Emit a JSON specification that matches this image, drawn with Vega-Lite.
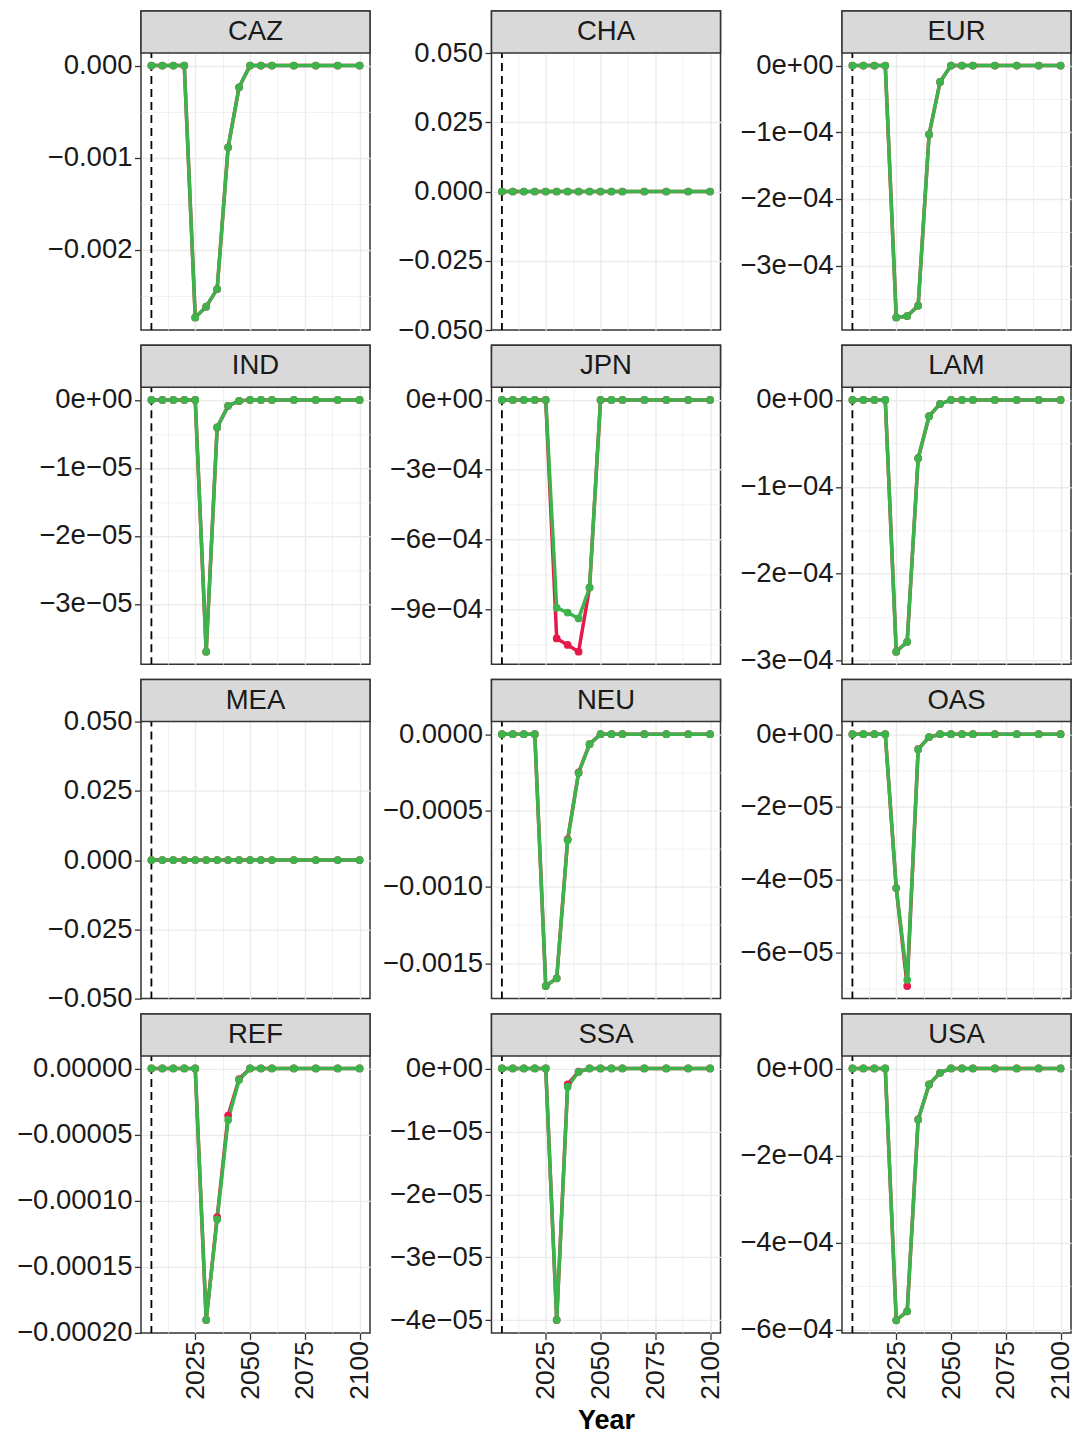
{
"$schema":"https://vega.github.io/schema/vega-lite/v6.json",
"padding":{"left":15,"top":9,"right":4,"bottom":0},
"background":"white",
"data":{"values":[
{"region":"CAZ","series":"A","year":2005,"value":0},{"region":"CAZ","series":"A","year":2010,"value":0},{"region":"CAZ","series":"A","year":2015,"value":0},{"region":"CAZ","series":"A","year":2020,"value":0},{"region":"CAZ","series":"A","year":2025,"value":-0.002736},{"region":"CAZ","series":"A","year":2030,"value":-0.00262},{"region":"CAZ","series":"A","year":2035,"value":-0.002428},{"region":"CAZ","series":"A","year":2040,"value":-0.000888},{"region":"CAZ","series":"A","year":2045,"value":-0.000236},{"region":"CAZ","series":"A","year":2050,"value":0},{"region":"CAZ","series":"A","year":2055,"value":0},{"region":"CAZ","series":"A","year":2060,"value":0},{"region":"CAZ","series":"A","year":2070,"value":0},{"region":"CAZ","series":"A","year":2080,"value":0},{"region":"CAZ","series":"A","year":2090,"value":0},{"region":"CAZ","series":"A","year":2100,"value":0},
{"region":"CAZ","series":"B","year":2005,"value":0},{"region":"CAZ","series":"B","year":2010,"value":0},{"region":"CAZ","series":"B","year":2015,"value":0},{"region":"CAZ","series":"B","year":2020,"value":0},{"region":"CAZ","series":"B","year":2025,"value":-0.002736},{"region":"CAZ","series":"B","year":2030,"value":-0.00262},{"region":"CAZ","series":"B","year":2035,"value":-0.002428},{"region":"CAZ","series":"B","year":2040,"value":-0.000888},{"region":"CAZ","series":"B","year":2045,"value":-0.000236},{"region":"CAZ","series":"B","year":2050,"value":0},{"region":"CAZ","series":"B","year":2055,"value":0},{"region":"CAZ","series":"B","year":2060,"value":0},{"region":"CAZ","series":"B","year":2070,"value":0},{"region":"CAZ","series":"B","year":2080,"value":0},{"region":"CAZ","series":"B","year":2090,"value":0},{"region":"CAZ","series":"B","year":2100,"value":0},
{"region":"CHA","series":"A","year":2005,"value":0},{"region":"CHA","series":"A","year":2010,"value":0},{"region":"CHA","series":"A","year":2015,"value":0},{"region":"CHA","series":"A","year":2020,"value":0},{"region":"CHA","series":"A","year":2025,"value":0},{"region":"CHA","series":"A","year":2030,"value":0},{"region":"CHA","series":"A","year":2035,"value":0},{"region":"CHA","series":"A","year":2040,"value":0},{"region":"CHA","series":"A","year":2045,"value":0},{"region":"CHA","series":"A","year":2050,"value":0},{"region":"CHA","series":"A","year":2055,"value":0},{"region":"CHA","series":"A","year":2060,"value":0},{"region":"CHA","series":"A","year":2070,"value":0},{"region":"CHA","series":"A","year":2080,"value":0},{"region":"CHA","series":"A","year":2090,"value":0},{"region":"CHA","series":"A","year":2100,"value":0},
{"region":"CHA","series":"B","year":2005,"value":0},{"region":"CHA","series":"B","year":2010,"value":0},{"region":"CHA","series":"B","year":2015,"value":0},{"region":"CHA","series":"B","year":2020,"value":0},{"region":"CHA","series":"B","year":2025,"value":0},{"region":"CHA","series":"B","year":2030,"value":0},{"region":"CHA","series":"B","year":2035,"value":0},{"region":"CHA","series":"B","year":2040,"value":0},{"region":"CHA","series":"B","year":2045,"value":0},{"region":"CHA","series":"B","year":2050,"value":0},{"region":"CHA","series":"B","year":2055,"value":0},{"region":"CHA","series":"B","year":2060,"value":0},{"region":"CHA","series":"B","year":2070,"value":0},{"region":"CHA","series":"B","year":2080,"value":0},{"region":"CHA","series":"B","year":2090,"value":0},{"region":"CHA","series":"B","year":2100,"value":0},
{"region":"EUR","series":"A","year":2005,"value":0},{"region":"EUR","series":"A","year":2010,"value":0},{"region":"EUR","series":"A","year":2015,"value":0},{"region":"EUR","series":"A","year":2020,"value":0},{"region":"EUR","series":"A","year":2025,"value":-0.0003778},{"region":"EUR","series":"A","year":2030,"value":-0.0003757},{"region":"EUR","series":"A","year":2035,"value":-0.0003603},{"region":"EUR","series":"A","year":2040,"value":-0.0001033},{"region":"EUR","series":"A","year":2045,"value":-0.0000245},{"region":"EUR","series":"A","year":2050,"value":0},{"region":"EUR","series":"A","year":2055,"value":0},{"region":"EUR","series":"A","year":2060,"value":0},{"region":"EUR","series":"A","year":2070,"value":0},{"region":"EUR","series":"A","year":2080,"value":0},{"region":"EUR","series":"A","year":2090,"value":0},{"region":"EUR","series":"A","year":2100,"value":0},
{"region":"EUR","series":"B","year":2005,"value":0},{"region":"EUR","series":"B","year":2010,"value":0},{"region":"EUR","series":"B","year":2015,"value":0},{"region":"EUR","series":"B","year":2020,"value":0},{"region":"EUR","series":"B","year":2025,"value":-0.0003778},{"region":"EUR","series":"B","year":2030,"value":-0.0003757},{"region":"EUR","series":"B","year":2035,"value":-0.0003603},{"region":"EUR","series":"B","year":2040,"value":-0.0001033},{"region":"EUR","series":"B","year":2045,"value":-0.0000245},{"region":"EUR","series":"B","year":2050,"value":0},{"region":"EUR","series":"B","year":2055,"value":0},{"region":"EUR","series":"B","year":2060,"value":0},{"region":"EUR","series":"B","year":2070,"value":0},{"region":"EUR","series":"B","year":2080,"value":0},{"region":"EUR","series":"B","year":2090,"value":0},{"region":"EUR","series":"B","year":2100,"value":0},
{"region":"IND","series":"A","year":2005,"value":0},{"region":"IND","series":"A","year":2010,"value":0},{"region":"IND","series":"A","year":2015,"value":0},{"region":"IND","series":"A","year":2020,"value":0},{"region":"IND","series":"A","year":2025,"value":0},{"region":"IND","series":"A","year":2030,"value":-0.00003705},{"region":"IND","series":"A","year":2035,"value":-0.00000406},{"region":"IND","series":"A","year":2040,"value":-0.00000088},{"region":"IND","series":"A","year":2045,"value":-0.00000015},{"region":"IND","series":"A","year":2050,"value":0},{"region":"IND","series":"A","year":2055,"value":0},{"region":"IND","series":"A","year":2060,"value":0},{"region":"IND","series":"A","year":2070,"value":0},{"region":"IND","series":"A","year":2080,"value":0},{"region":"IND","series":"A","year":2090,"value":0},{"region":"IND","series":"A","year":2100,"value":0},
{"region":"IND","series":"B","year":2005,"value":0},{"region":"IND","series":"B","year":2010,"value":0},{"region":"IND","series":"B","year":2015,"value":0},{"region":"IND","series":"B","year":2020,"value":0},{"region":"IND","series":"B","year":2025,"value":0},{"region":"IND","series":"B","year":2030,"value":-0.00003705},{"region":"IND","series":"B","year":2035,"value":-0.00000406},{"region":"IND","series":"B","year":2040,"value":-0.00000088},{"region":"IND","series":"B","year":2045,"value":-0.00000015},{"region":"IND","series":"B","year":2050,"value":0},{"region":"IND","series":"B","year":2055,"value":0},{"region":"IND","series":"B","year":2060,"value":0},{"region":"IND","series":"B","year":2070,"value":0},{"region":"IND","series":"B","year":2080,"value":0},{"region":"IND","series":"B","year":2090,"value":0},{"region":"IND","series":"B","year":2100,"value":0},
{"region":"JPN","series":"A","year":2005,"value":0},{"region":"JPN","series":"A","year":2010,"value":0},{"region":"JPN","series":"A","year":2015,"value":0},{"region":"JPN","series":"A","year":2020,"value":0},{"region":"JPN","series":"A","year":2025,"value":0},{"region":"JPN","series":"A","year":2030,"value":-0.001026},{"region":"JPN","series":"A","year":2035,"value":-0.001054},{"region":"JPN","series":"A","year":2040,"value":-0.001083},{"region":"JPN","series":"A","year":2045,"value":-0.000807},{"region":"JPN","series":"A","year":2050,"value":0},{"region":"JPN","series":"A","year":2055,"value":0},{"region":"JPN","series":"A","year":2060,"value":0},{"region":"JPN","series":"A","year":2070,"value":0},{"region":"JPN","series":"A","year":2080,"value":0},{"region":"JPN","series":"A","year":2090,"value":0},{"region":"JPN","series":"A","year":2100,"value":0},
{"region":"JPN","series":"B","year":2005,"value":0},{"region":"JPN","series":"B","year":2010,"value":0},{"region":"JPN","series":"B","year":2015,"value":0},{"region":"JPN","series":"B","year":2020,"value":0},{"region":"JPN","series":"B","year":2025,"value":0},{"region":"JPN","series":"B","year":2030,"value":-0.0008945},{"region":"JPN","series":"B","year":2035,"value":-0.0009145},{"region":"JPN","series":"B","year":2040,"value":-0.00094},{"region":"JPN","series":"B","year":2045,"value":-0.000807},{"region":"JPN","series":"B","year":2050,"value":0},{"region":"JPN","series":"B","year":2055,"value":0},{"region":"JPN","series":"B","year":2060,"value":0},{"region":"JPN","series":"B","year":2070,"value":0},{"region":"JPN","series":"B","year":2080,"value":0},{"region":"JPN","series":"B","year":2090,"value":0},{"region":"JPN","series":"B","year":2100,"value":0},
{"region":"LAM","series":"A","year":2005,"value":0},{"region":"LAM","series":"A","year":2010,"value":0},{"region":"LAM","series":"A","year":2015,"value":0},{"region":"LAM","series":"A","year":2020,"value":0},{"region":"LAM","series":"A","year":2025,"value":-0.0002897},{"region":"LAM","series":"A","year":2030,"value":-0.0002783},{"region":"LAM","series":"A","year":2035,"value":-0.0000671},{"region":"LAM","series":"A","year":2040,"value":-0.0000187},{"region":"LAM","series":"A","year":2045,"value":-0.0000046},{"region":"LAM","series":"A","year":2050,"value":0},{"region":"LAM","series":"A","year":2055,"value":0},{"region":"LAM","series":"A","year":2060,"value":0},{"region":"LAM","series":"A","year":2070,"value":0},{"region":"LAM","series":"A","year":2080,"value":0},{"region":"LAM","series":"A","year":2090,"value":0},{"region":"LAM","series":"A","year":2100,"value":0},
{"region":"LAM","series":"B","year":2005,"value":0},{"region":"LAM","series":"B","year":2010,"value":0},{"region":"LAM","series":"B","year":2015,"value":0},{"region":"LAM","series":"B","year":2020,"value":0},{"region":"LAM","series":"B","year":2025,"value":-0.0002897},{"region":"LAM","series":"B","year":2030,"value":-0.0002783},{"region":"LAM","series":"B","year":2035,"value":-0.0000671},{"region":"LAM","series":"B","year":2040,"value":-0.0000187},{"region":"LAM","series":"B","year":2045,"value":-0.0000046},{"region":"LAM","series":"B","year":2050,"value":0},{"region":"LAM","series":"B","year":2055,"value":0},{"region":"LAM","series":"B","year":2060,"value":0},{"region":"LAM","series":"B","year":2070,"value":0},{"region":"LAM","series":"B","year":2080,"value":0},{"region":"LAM","series":"B","year":2090,"value":0},{"region":"LAM","series":"B","year":2100,"value":0},
{"region":"MEA","series":"A","year":2005,"value":0},{"region":"MEA","series":"A","year":2010,"value":0},{"region":"MEA","series":"A","year":2015,"value":0},{"region":"MEA","series":"A","year":2020,"value":0},{"region":"MEA","series":"A","year":2025,"value":0},{"region":"MEA","series":"A","year":2030,"value":0},{"region":"MEA","series":"A","year":2035,"value":0},{"region":"MEA","series":"A","year":2040,"value":0},{"region":"MEA","series":"A","year":2045,"value":0},{"region":"MEA","series":"A","year":2050,"value":0},{"region":"MEA","series":"A","year":2055,"value":0},{"region":"MEA","series":"A","year":2060,"value":0},{"region":"MEA","series":"A","year":2070,"value":0},{"region":"MEA","series":"A","year":2080,"value":0},{"region":"MEA","series":"A","year":2090,"value":0},{"region":"MEA","series":"A","year":2100,"value":0},
{"region":"MEA","series":"B","year":2005,"value":0},{"region":"MEA","series":"B","year":2010,"value":0},{"region":"MEA","series":"B","year":2015,"value":0},{"region":"MEA","series":"B","year":2020,"value":0},{"region":"MEA","series":"B","year":2025,"value":0},{"region":"MEA","series":"B","year":2030,"value":0},{"region":"MEA","series":"B","year":2035,"value":0},{"region":"MEA","series":"B","year":2040,"value":0},{"region":"MEA","series":"B","year":2045,"value":0},{"region":"MEA","series":"B","year":2050,"value":0},{"region":"MEA","series":"B","year":2055,"value":0},{"region":"MEA","series":"B","year":2060,"value":0},{"region":"MEA","series":"B","year":2070,"value":0},{"region":"MEA","series":"B","year":2080,"value":0},{"region":"MEA","series":"B","year":2090,"value":0},{"region":"MEA","series":"B","year":2100,"value":0},
{"region":"NEU","series":"A","year":2005,"value":0},{"region":"NEU","series":"A","year":2010,"value":0},{"region":"NEU","series":"A","year":2015,"value":0},{"region":"NEU","series":"A","year":2020,"value":0},{"region":"NEU","series":"A","year":2025,"value":-0.001649},{"region":"NEU","series":"A","year":2030,"value":-0.001599},{"region":"NEU","series":"A","year":2035,"value":-0.000688},{"region":"NEU","series":"A","year":2040,"value":-0.00025},{"region":"NEU","series":"A","year":2045,"value":-0.0000651},{"region":"NEU","series":"A","year":2050,"value":0},{"region":"NEU","series":"A","year":2055,"value":0},{"region":"NEU","series":"A","year":2060,"value":0},{"region":"NEU","series":"A","year":2070,"value":0},{"region":"NEU","series":"A","year":2080,"value":0},{"region":"NEU","series":"A","year":2090,"value":0},{"region":"NEU","series":"A","year":2100,"value":0},
{"region":"NEU","series":"B","year":2005,"value":0},{"region":"NEU","series":"B","year":2010,"value":0},{"region":"NEU","series":"B","year":2015,"value":0},{"region":"NEU","series":"B","year":2020,"value":0},{"region":"NEU","series":"B","year":2025,"value":-0.001649},{"region":"NEU","series":"B","year":2030,"value":-0.001599},{"region":"NEU","series":"B","year":2035,"value":-0.000694},{"region":"NEU","series":"B","year":2040,"value":-0.000254},{"region":"NEU","series":"B","year":2045,"value":-0.0000651},{"region":"NEU","series":"B","year":2050,"value":0},{"region":"NEU","series":"B","year":2055,"value":0},{"region":"NEU","series":"B","year":2060,"value":0},{"region":"NEU","series":"B","year":2070,"value":0},{"region":"NEU","series":"B","year":2080,"value":0},{"region":"NEU","series":"B","year":2090,"value":0},{"region":"NEU","series":"B","year":2100,"value":0},
{"region":"OAS","series":"A","year":2005,"value":0},{"region":"OAS","series":"A","year":2010,"value":0},{"region":"OAS","series":"A","year":2015,"value":0},{"region":"OAS","series":"A","year":2020,"value":0},{"region":"OAS","series":"A","year":2025,"value":-0.00004227},{"region":"OAS","series":"A","year":2030,"value":-0.0000692},{"region":"OAS","series":"A","year":2035,"value":-0.0000041},{"region":"OAS","series":"A","year":2040,"value":-0.0000008},{"region":"OAS","series":"A","year":2045,"value":0},{"region":"OAS","series":"A","year":2050,"value":0},{"region":"OAS","series":"A","year":2055,"value":0},{"region":"OAS","series":"A","year":2060,"value":0},{"region":"OAS","series":"A","year":2070,"value":0},{"region":"OAS","series":"A","year":2080,"value":0},{"region":"OAS","series":"A","year":2090,"value":0},{"region":"OAS","series":"A","year":2100,"value":0},
{"region":"OAS","series":"B","year":2005,"value":0},{"region":"OAS","series":"B","year":2010,"value":0},{"region":"OAS","series":"B","year":2015,"value":0},{"region":"OAS","series":"B","year":2020,"value":0},{"region":"OAS","series":"B","year":2025,"value":-0.00004227},{"region":"OAS","series":"B","year":2030,"value":-0.0000675},{"region":"OAS","series":"B","year":2035,"value":-0.0000042},{"region":"OAS","series":"B","year":2040,"value":-0.0000008},{"region":"OAS","series":"B","year":2045,"value":0},{"region":"OAS","series":"B","year":2050,"value":0},{"region":"OAS","series":"B","year":2055,"value":0},{"region":"OAS","series":"B","year":2060,"value":0},{"region":"OAS","series":"B","year":2070,"value":0},{"region":"OAS","series":"B","year":2080,"value":0},{"region":"OAS","series":"B","year":2090,"value":0},{"region":"OAS","series":"B","year":2100,"value":0},
{"region":"REF","series":"A","year":2005,"value":0},{"region":"REF","series":"A","year":2010,"value":0},{"region":"REF","series":"A","year":2015,"value":0},{"region":"REF","series":"A","year":2020,"value":0},{"region":"REF","series":"A","year":2025,"value":0},{"region":"REF","series":"A","year":2030,"value":-0.0001902},{"region":"REF","series":"A","year":2035,"value":-0.0001124},{"region":"REF","series":"A","year":2040,"value":-0.0000356},{"region":"REF","series":"A","year":2045,"value":-0.000008},{"region":"REF","series":"A","year":2050,"value":0},{"region":"REF","series":"A","year":2055,"value":0},{"region":"REF","series":"A","year":2060,"value":0},{"region":"REF","series":"A","year":2070,"value":0},{"region":"REF","series":"A","year":2080,"value":0},{"region":"REF","series":"A","year":2090,"value":0},{"region":"REF","series":"A","year":2100,"value":0},
{"region":"REF","series":"B","year":2005,"value":0},{"region":"REF","series":"B","year":2010,"value":0},{"region":"REF","series":"B","year":2015,"value":0},{"region":"REF","series":"B","year":2020,"value":0},{"region":"REF","series":"B","year":2025,"value":0},{"region":"REF","series":"B","year":2030,"value":-0.0001902},{"region":"REF","series":"B","year":2035,"value":-0.0001142},{"region":"REF","series":"B","year":2040,"value":-0.0000389},{"region":"REF","series":"B","year":2045,"value":-0.0000087},{"region":"REF","series":"B","year":2050,"value":0},{"region":"REF","series":"B","year":2055,"value":0},{"region":"REF","series":"B","year":2060,"value":0},{"region":"REF","series":"B","year":2070,"value":0},{"region":"REF","series":"B","year":2080,"value":0},{"region":"REF","series":"B","year":2090,"value":0},{"region":"REF","series":"B","year":2100,"value":0},
{"region":"SSA","series":"A","year":2005,"value":0},{"region":"SSA","series":"A","year":2010,"value":0},{"region":"SSA","series":"A","year":2015,"value":0},{"region":"SSA","series":"A","year":2020,"value":0},{"region":"SSA","series":"A","year":2025,"value":0},{"region":"SSA","series":"A","year":2030,"value":-0.00003995},{"region":"SSA","series":"A","year":2035,"value":-0.00000253},{"region":"SSA","series":"A","year":2040,"value":-0.0000005},{"region":"SSA","series":"A","year":2045,"value":0},{"region":"SSA","series":"A","year":2050,"value":0},{"region":"SSA","series":"A","year":2055,"value":0},{"region":"SSA","series":"A","year":2060,"value":0},{"region":"SSA","series":"A","year":2070,"value":0},{"region":"SSA","series":"A","year":2080,"value":0},{"region":"SSA","series":"A","year":2090,"value":0},{"region":"SSA","series":"A","year":2100,"value":0},
{"region":"SSA","series":"B","year":2005,"value":0},{"region":"SSA","series":"B","year":2010,"value":0},{"region":"SSA","series":"B","year":2015,"value":0},{"region":"SSA","series":"B","year":2020,"value":0},{"region":"SSA","series":"B","year":2025,"value":0},{"region":"SSA","series":"B","year":2030,"value":-0.00003995},{"region":"SSA","series":"B","year":2035,"value":-0.0000029},{"region":"SSA","series":"B","year":2040,"value":-0.00000053},{"region":"SSA","series":"B","year":2045,"value":0},{"region":"SSA","series":"B","year":2050,"value":0},{"region":"SSA","series":"B","year":2055,"value":0},{"region":"SSA","series":"B","year":2060,"value":0},{"region":"SSA","series":"B","year":2070,"value":0},{"region":"SSA","series":"B","year":2080,"value":0},{"region":"SSA","series":"B","year":2090,"value":0},{"region":"SSA","series":"B","year":2100,"value":0},
{"region":"USA","series":"A","year":2005,"value":0},{"region":"USA","series":"A","year":2010,"value":0},{"region":"USA","series":"A","year":2015,"value":0},{"region":"USA","series":"A","year":2020,"value":0},{"region":"USA","series":"A","year":2025,"value":-0.0005779},{"region":"USA","series":"A","year":2030,"value":-0.0005574},{"region":"USA","series":"A","year":2035,"value":-0.000117},{"region":"USA","series":"A","year":2040,"value":-0.0000365},{"region":"USA","series":"A","year":2045,"value":-0.0000099},{"region":"USA","series":"A","year":2050,"value":0},{"region":"USA","series":"A","year":2055,"value":0},{"region":"USA","series":"A","year":2060,"value":0},{"region":"USA","series":"A","year":2070,"value":0},{"region":"USA","series":"A","year":2080,"value":0},{"region":"USA","series":"A","year":2090,"value":0},{"region":"USA","series":"A","year":2100,"value":0},
{"region":"USA","series":"B","year":2005,"value":0},{"region":"USA","series":"B","year":2010,"value":0},{"region":"USA","series":"B","year":2015,"value":0},{"region":"USA","series":"B","year":2020,"value":0},{"region":"USA","series":"B","year":2025,"value":-0.0005779},{"region":"USA","series":"B","year":2030,"value":-0.0005574},{"region":"USA","series":"B","year":2035,"value":-0.0001178},{"region":"USA","series":"B","year":2040,"value":-0.0000365},{"region":"USA","series":"B","year":2045,"value":-0.0000099},{"region":"USA","series":"B","year":2050,"value":0},{"region":"USA","series":"B","year":2055,"value":0},{"region":"USA","series":"B","year":2060,"value":0},{"region":"USA","series":"B","year":2070,"value":0},{"region":"USA","series":"B","year":2080,"value":0},{"region":"USA","series":"B","year":2090,"value":0},{"region":"USA","series":"B","year":2100,"value":0}
]},
"columns":3,
"spacing":{"row":15.3,"column":121.5},
"bounds":"flush",
"concat":[
{"width":229,"height":319,"transform":[{"filter":"datum.region == 'CAZ'"}],"layer":[
 {"transform":[{"aggregate":[{"op":"min","field":"year","as":"year"}]}],"mark":{"type":"rule","color":"#000000","strokeWidth":1.8,"strokeDash":[8,5]},"encoding":{"x":{"field":"year","type":"quantitative","scale":{"domain":[2000.25,2104.75],"nice":false,"zero":false},"axis":{"values":[2012.5,2025,2037.5,2050,2062.5,2075,2087.5,2100],"labels":false,"ticks":false,"title":null,"gridWidth":{"condition":{"test":"datum.value % 25 != 0","value":0.7},"value":1.4}}}}},
 {"mark":{"type":"line","strokeWidth":3.5},"encoding":{"x":{"field":"year","type":"quantitative","scale":{"domain":[2000.25,2104.75],"nice":false,"zero":false},"axis":{"values":[2012.5,2025,2037.5,2050,2062.5,2075,2087.5,2100],"labels":false,"ticks":false,"title":null,"gridWidth":{"condition":{"test":"datum.value % 25 != 0","value":0.7},"value":1.4}}},"y":{"field":"value","type":"quantitative","scale":{"domain":[-0.002873,0.00059339],"nice":false,"zero":false},"axis":{"title":null,"values":[-0.0025,-0.002,-0.0015,-0.001,-0.0005,0],"labelExpr":"['0.000','−0.001','−0.002'][indexof([0,-0.001,-0.002], datum.value)] || ''","tickOpacity":{"condition":{"test":"indexof([0,-0.001,-0.002], datum.value) < 0","value":0},"value":1},"gridWidth":{"condition":{"test":"indexof([0,-0.001,-0.002], datum.value) < 0","value":0.7},"value":1.4}}},"color":{"field":"series","type":"nominal","scale":{"domain":["A","B"],"range":["#e6194B","#3cb44b"]},"legend":null}}},
 {"mark":{"type":"circle","size":60,"opacity":1},"encoding":{"x":{"field":"year","type":"quantitative","scale":{"domain":[2000.25,2104.75],"nice":false,"zero":false},"axis":{"values":[2012.5,2025,2037.5,2050,2062.5,2075,2087.5,2100],"labels":false,"ticks":false,"title":null,"gridWidth":{"condition":{"test":"datum.value % 25 != 0","value":0.7},"value":1.4}}},"y":{"field":"value","type":"quantitative","scale":{"domain":[-0.002873,0.00059339],"nice":false,"zero":false}},"color":{"field":"series","type":"nominal","scale":{"domain":["A","B"],"range":["#e6194B","#3cb44b"]},"legend":null}}},
 {"transform":[{"aggregate":[{"op":"count","as":"n"}],"groupby":["region"]}],"mark":{"type":"rect","fill":"#d9d9d9","stroke":"#333333","strokeWidth":1.5},"encoding":{"y":{"datum":0.000137,"type":"quantitative","scale":{"domain":[-0.002873,0.00059339],"nice":false,"zero":false}},"y2":{"datum":0.00059339}}},
 {"transform":[{"aggregate":[{"op":"count","as":"n"}],"groupby":["region"]}],"mark":{"type":"text","fontSize":27.5,"color":"#1a1a1a"},"encoding":{"y":{"datum":0.0003652,"type":"quantitative","scale":{"domain":[-0.002873,0.00059339],"nice":false,"zero":false}},"text":{"field":"region","type":"nominal"}}}
]},
{"width":229,"height":319,"transform":[{"filter":"datum.region == 'CHA'"}],"layer":[
 {"transform":[{"aggregate":[{"op":"min","field":"year","as":"year"}]}],"mark":{"type":"rule","color":"#000000","strokeWidth":1.8,"strokeDash":[8,5]},"encoding":{"x":{"field":"year","type":"quantitative","scale":{"domain":[2000.25,2104.75],"nice":false,"zero":false},"axis":{"values":[2012.5,2025,2037.5,2050,2062.5,2075,2087.5,2100],"labels":false,"ticks":false,"title":null,"gridWidth":{"condition":{"test":"datum.value % 25 != 0","value":0.7},"value":1.4}}}}},
 {"mark":{"type":"line","strokeWidth":3.5},"encoding":{"x":{"field":"year","type":"quantitative","scale":{"domain":[2000.25,2104.75],"nice":false,"zero":false},"axis":{"values":[2012.5,2025,2037.5,2050,2062.5,2075,2087.5,2100],"labels":false,"ticks":false,"title":null,"gridWidth":{"condition":{"test":"datum.value % 25 != 0","value":0.7},"value":1.4}}},"y":{"field":"value","type":"quantitative","scale":{"domain":[-0.05,0.0651625],"nice":false,"zero":false},"axis":{"title":null,"values":[-0.05,-0.0375,-0.025,-0.0125,0,0.0125,0.025,0.0375,0.05],"labelExpr":"['0.050','0.025','0.000','−0.025','−0.050'][indexof([0.05,0.025,0,-0.025,-0.05], datum.value)] || ''","tickOpacity":{"condition":{"test":"indexof([0.05,0.025,0,-0.025,-0.05], datum.value) < 0","value":0},"value":1},"gridWidth":{"condition":{"test":"indexof([0.05,0.025,0,-0.025,-0.05], datum.value) < 0","value":0.7},"value":1.4},"gridOpacity":{"condition":{"test":"abs(datum.value) >= 0.05","value":0},"value":1}}},"color":{"field":"series","type":"nominal","scale":{"domain":["A","B"],"range":["#e6194B","#3cb44b"]},"legend":null}}},
 {"mark":{"type":"circle","size":60,"opacity":1},"encoding":{"x":{"field":"year","type":"quantitative","scale":{"domain":[2000.25,2104.75],"nice":false,"zero":false},"axis":{"values":[2012.5,2025,2037.5,2050,2062.5,2075,2087.5,2100],"labels":false,"ticks":false,"title":null,"gridWidth":{"condition":{"test":"datum.value % 25 != 0","value":0.7},"value":1.4}}},"y":{"field":"value","type":"quantitative","scale":{"domain":[-0.05,0.0651625],"nice":false,"zero":false}},"color":{"field":"series","type":"nominal","scale":{"domain":["A","B"],"range":["#e6194B","#3cb44b"]},"legend":null}}},
 {"transform":[{"aggregate":[{"op":"count","as":"n"}],"groupby":["region"]}],"mark":{"type":"rect","fill":"#d9d9d9","stroke":"#333333","strokeWidth":1.5},"encoding":{"y":{"datum":0.05,"type":"quantitative","scale":{"domain":[-0.05,0.0651625],"nice":false,"zero":false}},"y2":{"datum":0.0651625}}},
 {"transform":[{"aggregate":[{"op":"count","as":"n"}],"groupby":["region"]}],"mark":{"type":"text","fontSize":27.5,"color":"#1a1a1a"},"encoding":{"y":{"datum":0.05758125,"type":"quantitative","scale":{"domain":[-0.05,0.0651625],"nice":false,"zero":false}},"text":{"field":"region","type":"nominal"}}}
]},
{"width":229,"height":319,"transform":[{"filter":"datum.region == 'EUR'"}],"layer":[
 {"transform":[{"aggregate":[{"op":"min","field":"year","as":"year"}]}],"mark":{"type":"rule","color":"#000000","strokeWidth":1.8,"strokeDash":[8,5]},"encoding":{"x":{"field":"year","type":"quantitative","scale":{"domain":[2000.25,2104.75],"nice":false,"zero":false},"axis":{"values":[2012.5,2025,2037.5,2050,2062.5,2075,2087.5,2100],"labels":false,"ticks":false,"title":null,"gridWidth":{"condition":{"test":"datum.value % 25 != 0","value":0.7},"value":1.4}}}}},
 {"mark":{"type":"line","strokeWidth":3.5},"encoding":{"x":{"field":"year","type":"quantitative","scale":{"domain":[2000.25,2104.75],"nice":false,"zero":false},"axis":{"values":[2012.5,2025,2037.5,2050,2062.5,2075,2087.5,2100],"labels":false,"ticks":false,"title":null,"gridWidth":{"condition":{"test":"datum.value % 25 != 0","value":0.7},"value":1.4}}},"y":{"field":"value","type":"quantitative","scale":{"domain":[-0.0003967,0.00008191],"nice":false,"zero":false},"axis":{"title":null,"values":[-0.00035,-0.0003,-0.00025,-0.0002,-0.00015,-0.0001,-0.00005,0],"labelExpr":"['0e+00','−1e−04','−2e−04','−3e−04'][indexof([0,-0.0001,-0.0002,-0.0003], datum.value)] || ''","tickOpacity":{"condition":{"test":"indexof([0,-0.0001,-0.0002,-0.0003], datum.value) < 0","value":0},"value":1},"gridWidth":{"condition":{"test":"indexof([0,-0.0001,-0.0002,-0.0003], datum.value) < 0","value":0.7},"value":1.4}}},"color":{"field":"series","type":"nominal","scale":{"domain":["A","B"],"range":["#e6194B","#3cb44b"]},"legend":null}}},
 {"mark":{"type":"circle","size":60,"opacity":1},"encoding":{"x":{"field":"year","type":"quantitative","scale":{"domain":[2000.25,2104.75],"nice":false,"zero":false},"axis":{"values":[2012.5,2025,2037.5,2050,2062.5,2075,2087.5,2100],"labels":false,"ticks":false,"title":null,"gridWidth":{"condition":{"test":"datum.value % 25 != 0","value":0.7},"value":1.4}}},"y":{"field":"value","type":"quantitative","scale":{"domain":[-0.0003967,0.00008191],"nice":false,"zero":false}},"color":{"field":"series","type":"nominal","scale":{"domain":["A","B"],"range":["#e6194B","#3cb44b"]},"legend":null}}},
 {"transform":[{"aggregate":[{"op":"count","as":"n"}],"groupby":["region"]}],"mark":{"type":"rect","fill":"#d9d9d9","stroke":"#333333","strokeWidth":1.5},"encoding":{"y":{"datum":0.0000189,"type":"quantitative","scale":{"domain":[-0.0003967,0.00008191],"nice":false,"zero":false}},"y2":{"datum":0.00008191}}},
 {"transform":[{"aggregate":[{"op":"count","as":"n"}],"groupby":["region"]}],"mark":{"type":"text","fontSize":27.5,"color":"#1a1a1a"},"encoding":{"y":{"datum":0.00005041,"type":"quantitative","scale":{"domain":[-0.0003967,0.00008191],"nice":false,"zero":false}},"text":{"field":"region","type":"nominal"}}}
]},
{"width":229,"height":319,"transform":[{"filter":"datum.region == 'IND'"}],"layer":[
 {"transform":[{"aggregate":[{"op":"min","field":"year","as":"year"}]}],"mark":{"type":"rule","color":"#000000","strokeWidth":1.8,"strokeDash":[8,5]},"encoding":{"x":{"field":"year","type":"quantitative","scale":{"domain":[2000.25,2104.75],"nice":false,"zero":false},"axis":{"values":[2012.5,2025,2037.5,2050,2062.5,2075,2087.5,2100],"labels":false,"ticks":false,"title":null,"gridWidth":{"condition":{"test":"datum.value % 25 != 0","value":0.7},"value":1.4}}}}},
 {"mark":{"type":"line","strokeWidth":3.5},"encoding":{"x":{"field":"year","type":"quantitative","scale":{"domain":[2000.25,2104.75],"nice":false,"zero":false},"axis":{"values":[2012.5,2025,2037.5,2050,2062.5,2075,2087.5,2100],"labels":false,"ticks":false,"title":null,"gridWidth":{"condition":{"test":"datum.value % 25 != 0","value":0.7},"value":1.4}}},"y":{"field":"value","type":"quantitative","scale":{"domain":[-0.0000389,0.000008029],"nice":false,"zero":false},"axis":{"title":null,"values":[-0.000035,-0.00003,-0.000025,-0.00002,-0.000015,-0.00001,-0.000005,0],"labelExpr":"['0e+00','−1e−05','−2e−05','−3e−05'][indexof([0,-0.00001,-0.00002,-0.00003], datum.value)] || ''","tickOpacity":{"condition":{"test":"indexof([0,-0.00001,-0.00002,-0.00003], datum.value) < 0","value":0},"value":1},"gridWidth":{"condition":{"test":"indexof([0,-0.00001,-0.00002,-0.00003], datum.value) < 0","value":0.7},"value":1.4}}},"color":{"field":"series","type":"nominal","scale":{"domain":["A","B"],"range":["#e6194B","#3cb44b"]},"legend":null}}},
 {"mark":{"type":"circle","size":60,"opacity":1},"encoding":{"x":{"field":"year","type":"quantitative","scale":{"domain":[2000.25,2104.75],"nice":false,"zero":false},"axis":{"values":[2012.5,2025,2037.5,2050,2062.5,2075,2087.5,2100],"labels":false,"ticks":false,"title":null,"gridWidth":{"condition":{"test":"datum.value % 25 != 0","value":0.7},"value":1.4}}},"y":{"field":"value","type":"quantitative","scale":{"domain":[-0.0000389,0.000008029],"nice":false,"zero":false}},"color":{"field":"series","type":"nominal","scale":{"domain":["A","B"],"range":["#e6194B","#3cb44b"]},"legend":null}}},
 {"transform":[{"aggregate":[{"op":"count","as":"n"}],"groupby":["region"]}],"mark":{"type":"rect","fill":"#d9d9d9","stroke":"#333333","strokeWidth":1.5},"encoding":{"y":{"datum":0.00000185,"type":"quantitative","scale":{"domain":[-0.0000389,0.000008029],"nice":false,"zero":false}},"y2":{"datum":0.000008029}}},
 {"transform":[{"aggregate":[{"op":"count","as":"n"}],"groupby":["region"]}],"mark":{"type":"text","fontSize":27.5,"color":"#1a1a1a"},"encoding":{"y":{"datum":0.00000494,"type":"quantitative","scale":{"domain":[-0.0000389,0.000008029],"nice":false,"zero":false}},"text":{"field":"region","type":"nominal"}}}
]},
{"width":229,"height":319,"transform":[{"filter":"datum.region == 'JPN'"}],"layer":[
 {"transform":[{"aggregate":[{"op":"min","field":"year","as":"year"}]}],"mark":{"type":"rule","color":"#000000","strokeWidth":1.8,"strokeDash":[8,5]},"encoding":{"x":{"field":"year","type":"quantitative","scale":{"domain":[2000.25,2104.75],"nice":false,"zero":false},"axis":{"values":[2012.5,2025,2037.5,2050,2062.5,2075,2087.5,2100],"labels":false,"ticks":false,"title":null,"gridWidth":{"condition":{"test":"datum.value % 25 != 0","value":0.7},"value":1.4}}}}},
 {"mark":{"type":"line","strokeWidth":3.5},"encoding":{"x":{"field":"year","type":"quantitative","scale":{"domain":[2000.25,2104.75],"nice":false,"zero":false},"axis":{"values":[2012.5,2025,2037.5,2050,2062.5,2075,2087.5,2100],"labels":false,"ticks":false,"title":null,"gridWidth":{"condition":{"test":"datum.value % 25 != 0","value":0.7},"value":1.4}}},"y":{"field":"value","type":"quantitative","scale":{"domain":[-0.0011372,0.00023485],"nice":false,"zero":false},"axis":{"title":null,"values":[-0.00105,-0.0009,-0.00075,-0.0006,-0.00045,-0.0003,-0.00015,0],"labelExpr":"['0e+00','−3e−04','−6e−04','−9e−04'][indexof([0,-0.0003,-0.0006,-0.0009], datum.value)] || ''","tickOpacity":{"condition":{"test":"indexof([0,-0.0003,-0.0006,-0.0009], datum.value) < 0","value":0},"value":1},"gridWidth":{"condition":{"test":"indexof([0,-0.0003,-0.0006,-0.0009], datum.value) < 0","value":0.7},"value":1.4}}},"color":{"field":"series","type":"nominal","scale":{"domain":["A","B"],"range":["#e6194B","#3cb44b"]},"legend":null}}},
 {"mark":{"type":"circle","size":60,"opacity":1},"encoding":{"x":{"field":"year","type":"quantitative","scale":{"domain":[2000.25,2104.75],"nice":false,"zero":false},"axis":{"values":[2012.5,2025,2037.5,2050,2062.5,2075,2087.5,2100],"labels":false,"ticks":false,"title":null,"gridWidth":{"condition":{"test":"datum.value % 25 != 0","value":0.7},"value":1.4}}},"y":{"field":"value","type":"quantitative","scale":{"domain":[-0.0011372,0.00023485],"nice":false,"zero":false}},"color":{"field":"series","type":"nominal","scale":{"domain":["A","B"],"range":["#e6194B","#3cb44b"]},"legend":null}}},
 {"transform":[{"aggregate":[{"op":"count","as":"n"}],"groupby":["region"]}],"mark":{"type":"rect","fill":"#d9d9d9","stroke":"#333333","strokeWidth":1.5},"encoding":{"y":{"datum":0.0000542,"type":"quantitative","scale":{"domain":[-0.0011372,0.00023485],"nice":false,"zero":false}},"y2":{"datum":0.00023485}}},
 {"transform":[{"aggregate":[{"op":"count","as":"n"}],"groupby":["region"]}],"mark":{"type":"text","fontSize":27.5,"color":"#1a1a1a"},"encoding":{"y":{"datum":0.00014453,"type":"quantitative","scale":{"domain":[-0.0011372,0.00023485],"nice":false,"zero":false}},"text":{"field":"region","type":"nominal"}}}
]},
{"width":229,"height":319,"transform":[{"filter":"datum.region == 'LAM'"}],"layer":[
 {"transform":[{"aggregate":[{"op":"min","field":"year","as":"year"}]}],"mark":{"type":"rule","color":"#000000","strokeWidth":1.8,"strokeDash":[8,5]},"encoding":{"x":{"field":"year","type":"quantitative","scale":{"domain":[2000.25,2104.75],"nice":false,"zero":false},"axis":{"values":[2012.5,2025,2037.5,2050,2062.5,2075,2087.5,2100],"labels":false,"ticks":false,"title":null,"gridWidth":{"condition":{"test":"datum.value % 25 != 0","value":0.7},"value":1.4}}}}},
 {"mark":{"type":"line","strokeWidth":3.5},"encoding":{"x":{"field":"year","type":"quantitative","scale":{"domain":[2000.25,2104.75],"nice":false,"zero":false},"axis":{"values":[2012.5,2025,2037.5,2050,2062.5,2075,2087.5,2100],"labels":false,"ticks":false,"title":null,"gridWidth":{"condition":{"test":"datum.value % 25 != 0","value":0.7},"value":1.4}}},"y":{"field":"value","type":"quantitative","scale":{"domain":[-0.0003042,0.00006282],"nice":false,"zero":false},"axis":{"title":null,"values":[-0.0003,-0.00025,-0.0002,-0.00015,-0.0001,-0.00005,0],"labelExpr":"['0e+00','−1e−04','−2e−04','−3e−04'][indexof([0,-0.0001,-0.0002,-0.0003], datum.value)] || ''","tickOpacity":{"condition":{"test":"indexof([0,-0.0001,-0.0002,-0.0003], datum.value) < 0","value":0},"value":1},"gridWidth":{"condition":{"test":"indexof([0,-0.0001,-0.0002,-0.0003], datum.value) < 0","value":0.7},"value":1.4}}},"color":{"field":"series","type":"nominal","scale":{"domain":["A","B"],"range":["#e6194B","#3cb44b"]},"legend":null}}},
 {"mark":{"type":"circle","size":60,"opacity":1},"encoding":{"x":{"field":"year","type":"quantitative","scale":{"domain":[2000.25,2104.75],"nice":false,"zero":false},"axis":{"values":[2012.5,2025,2037.5,2050,2062.5,2075,2087.5,2100],"labels":false,"ticks":false,"title":null,"gridWidth":{"condition":{"test":"datum.value % 25 != 0","value":0.7},"value":1.4}}},"y":{"field":"value","type":"quantitative","scale":{"domain":[-0.0003042,0.00006282],"nice":false,"zero":false}},"color":{"field":"series","type":"nominal","scale":{"domain":["A","B"],"range":["#e6194B","#3cb44b"]},"legend":null}}},
 {"transform":[{"aggregate":[{"op":"count","as":"n"}],"groupby":["region"]}],"mark":{"type":"rect","fill":"#d9d9d9","stroke":"#333333","strokeWidth":1.5},"encoding":{"y":{"datum":0.0000145,"type":"quantitative","scale":{"domain":[-0.0003042,0.00006282],"nice":false,"zero":false}},"y2":{"datum":0.00006282}}},
 {"transform":[{"aggregate":[{"op":"count","as":"n"}],"groupby":["region"]}],"mark":{"type":"text","fontSize":27.5,"color":"#1a1a1a"},"encoding":{"y":{"datum":0.00003866,"type":"quantitative","scale":{"domain":[-0.0003042,0.00006282],"nice":false,"zero":false}},"text":{"field":"region","type":"nominal"}}}
]},
{"width":229,"height":319,"transform":[{"filter":"datum.region == 'MEA'"}],"layer":[
 {"transform":[{"aggregate":[{"op":"min","field":"year","as":"year"}]}],"mark":{"type":"rule","color":"#000000","strokeWidth":1.8,"strokeDash":[8,5]},"encoding":{"x":{"field":"year","type":"quantitative","scale":{"domain":[2000.25,2104.75],"nice":false,"zero":false},"axis":{"values":[2012.5,2025,2037.5,2050,2062.5,2075,2087.5,2100],"labels":false,"ticks":false,"title":null,"gridWidth":{"condition":{"test":"datum.value % 25 != 0","value":0.7},"value":1.4}}}}},
 {"mark":{"type":"line","strokeWidth":3.5},"encoding":{"x":{"field":"year","type":"quantitative","scale":{"domain":[2000.25,2104.75],"nice":false,"zero":false},"axis":{"values":[2012.5,2025,2037.5,2050,2062.5,2075,2087.5,2100],"labels":false,"ticks":false,"title":null,"gridWidth":{"condition":{"test":"datum.value % 25 != 0","value":0.7},"value":1.4}}},"y":{"field":"value","type":"quantitative","scale":{"domain":[-0.05,0.0651625],"nice":false,"zero":false},"axis":{"title":null,"values":[-0.05,-0.0375,-0.025,-0.0125,0,0.0125,0.025,0.0375,0.05],"labelExpr":"['0.050','0.025','0.000','−0.025','−0.050'][indexof([0.05,0.025,0,-0.025,-0.05], datum.value)] || ''","tickOpacity":{"condition":{"test":"indexof([0.05,0.025,0,-0.025,-0.05], datum.value) < 0","value":0},"value":1},"gridWidth":{"condition":{"test":"indexof([0.05,0.025,0,-0.025,-0.05], datum.value) < 0","value":0.7},"value":1.4},"gridOpacity":{"condition":{"test":"abs(datum.value) >= 0.05","value":0},"value":1}}},"color":{"field":"series","type":"nominal","scale":{"domain":["A","B"],"range":["#e6194B","#3cb44b"]},"legend":null}}},
 {"mark":{"type":"circle","size":60,"opacity":1},"encoding":{"x":{"field":"year","type":"quantitative","scale":{"domain":[2000.25,2104.75],"nice":false,"zero":false},"axis":{"values":[2012.5,2025,2037.5,2050,2062.5,2075,2087.5,2100],"labels":false,"ticks":false,"title":null,"gridWidth":{"condition":{"test":"datum.value % 25 != 0","value":0.7},"value":1.4}}},"y":{"field":"value","type":"quantitative","scale":{"domain":[-0.05,0.0651625],"nice":false,"zero":false}},"color":{"field":"series","type":"nominal","scale":{"domain":["A","B"],"range":["#e6194B","#3cb44b"]},"legend":null}}},
 {"transform":[{"aggregate":[{"op":"count","as":"n"}],"groupby":["region"]}],"mark":{"type":"rect","fill":"#d9d9d9","stroke":"#333333","strokeWidth":1.5},"encoding":{"y":{"datum":0.05,"type":"quantitative","scale":{"domain":[-0.05,0.0651625],"nice":false,"zero":false}},"y2":{"datum":0.0651625}}},
 {"transform":[{"aggregate":[{"op":"count","as":"n"}],"groupby":["region"]}],"mark":{"type":"text","fontSize":27.5,"color":"#1a1a1a"},"encoding":{"y":{"datum":0.05758125,"type":"quantitative","scale":{"domain":[-0.05,0.0651625],"nice":false,"zero":false}},"text":{"field":"region","type":"nominal"}}}
]},
{"width":229,"height":319,"transform":[{"filter":"datum.region == 'NEU'"}],"layer":[
 {"transform":[{"aggregate":[{"op":"min","field":"year","as":"year"}]}],"mark":{"type":"rule","color":"#000000","strokeWidth":1.8,"strokeDash":[8,5]},"encoding":{"x":{"field":"year","type":"quantitative","scale":{"domain":[2000.25,2104.75],"nice":false,"zero":false},"axis":{"values":[2012.5,2025,2037.5,2050,2062.5,2075,2087.5,2100],"labels":false,"ticks":false,"title":null,"gridWidth":{"condition":{"test":"datum.value % 25 != 0","value":0.7},"value":1.4}}}}},
 {"mark":{"type":"line","strokeWidth":3.5},"encoding":{"x":{"field":"year","type":"quantitative","scale":{"domain":[2000.25,2104.75],"nice":false,"zero":false},"axis":{"values":[2012.5,2025,2037.5,2050,2062.5,2075,2087.5,2100],"labels":false,"ticks":false,"title":null,"gridWidth":{"condition":{"test":"datum.value % 25 != 0","value":0.7},"value":1.4}}},"y":{"field":"value","type":"quantitative","scale":{"domain":[-0.0017315,0.00035755],"nice":false,"zero":false},"axis":{"title":null,"values":[-0.0015,-0.00125,-0.001,-0.00075,-0.0005,-0.00025,0],"labelExpr":"['0.0000','−0.0005','−0.0010','−0.0015'][indexof([0,-0.0005,-0.001,-0.0015], datum.value)] || ''","tickOpacity":{"condition":{"test":"indexof([0,-0.0005,-0.001,-0.0015], datum.value) < 0","value":0},"value":1},"gridWidth":{"condition":{"test":"indexof([0,-0.0005,-0.001,-0.0015], datum.value) < 0","value":0.7},"value":1.4}}},"color":{"field":"series","type":"nominal","scale":{"domain":["A","B"],"range":["#e6194B","#3cb44b"]},"legend":null}}},
 {"mark":{"type":"circle","size":60,"opacity":1},"encoding":{"x":{"field":"year","type":"quantitative","scale":{"domain":[2000.25,2104.75],"nice":false,"zero":false},"axis":{"values":[2012.5,2025,2037.5,2050,2062.5,2075,2087.5,2100],"labels":false,"ticks":false,"title":null,"gridWidth":{"condition":{"test":"datum.value % 25 != 0","value":0.7},"value":1.4}}},"y":{"field":"value","type":"quantitative","scale":{"domain":[-0.0017315,0.00035755],"nice":false,"zero":false}},"color":{"field":"series","type":"nominal","scale":{"domain":["A","B"],"range":["#e6194B","#3cb44b"]},"legend":null}}},
 {"transform":[{"aggregate":[{"op":"count","as":"n"}],"groupby":["region"]}],"mark":{"type":"rect","fill":"#d9d9d9","stroke":"#333333","strokeWidth":1.5},"encoding":{"y":{"datum":0.0000825,"type":"quantitative","scale":{"domain":[-0.0017315,0.00035755],"nice":false,"zero":false}},"y2":{"datum":0.00035755}}},
 {"transform":[{"aggregate":[{"op":"count","as":"n"}],"groupby":["region"]}],"mark":{"type":"text","fontSize":27.5,"color":"#1a1a1a"},"encoding":{"y":{"datum":0.00022003,"type":"quantitative","scale":{"domain":[-0.0017315,0.00035755],"nice":false,"zero":false}},"text":{"field":"region","type":"nominal"}}}
]},
{"width":229,"height":319,"transform":[{"filter":"datum.region == 'OAS'"}],"layer":[
 {"transform":[{"aggregate":[{"op":"min","field":"year","as":"year"}]}],"mark":{"type":"rule","color":"#000000","strokeWidth":1.8,"strokeDash":[8,5]},"encoding":{"x":{"field":"year","type":"quantitative","scale":{"domain":[2000.25,2104.75],"nice":false,"zero":false},"axis":{"values":[2012.5,2025,2037.5,2050,2062.5,2075,2087.5,2100],"labels":false,"ticks":false,"title":null,"gridWidth":{"condition":{"test":"datum.value % 25 != 0","value":0.7},"value":1.4}}}}},
 {"mark":{"type":"line","strokeWidth":3.5},"encoding":{"x":{"field":"year","type":"quantitative","scale":{"domain":[2000.25,2104.75],"nice":false,"zero":false},"axis":{"values":[2012.5,2025,2037.5,2050,2062.5,2075,2087.5,2100],"labels":false,"ticks":false,"title":null,"gridWidth":{"condition":{"test":"datum.value % 25 != 0","value":0.7},"value":1.4}}},"y":{"field":"value","type":"quantitative","scale":{"domain":[-0.00007266,0.000015002],"nice":false,"zero":false},"axis":{"title":null,"values":[-0.00007,-0.00006,-0.00005,-0.00004,-0.00003,-0.00002,-0.00001,0],"labelExpr":"['0e+00','−2e−05','−4e−05','−6e−05'][indexof([0,-0.00002,-0.00004,-0.00006], datum.value)] || ''","tickOpacity":{"condition":{"test":"indexof([0,-0.00002,-0.00004,-0.00006], datum.value) < 0","value":0},"value":1},"gridWidth":{"condition":{"test":"indexof([0,-0.00002,-0.00004,-0.00006], datum.value) < 0","value":0.7},"value":1.4}}},"color":{"field":"series","type":"nominal","scale":{"domain":["A","B"],"range":["#e6194B","#3cb44b"]},"legend":null}}},
 {"mark":{"type":"circle","size":60,"opacity":1},"encoding":{"x":{"field":"year","type":"quantitative","scale":{"domain":[2000.25,2104.75],"nice":false,"zero":false},"axis":{"values":[2012.5,2025,2037.5,2050,2062.5,2075,2087.5,2100],"labels":false,"ticks":false,"title":null,"gridWidth":{"condition":{"test":"datum.value % 25 != 0","value":0.7},"value":1.4}}},"y":{"field":"value","type":"quantitative","scale":{"domain":[-0.00007266,0.000015002],"nice":false,"zero":false}},"color":{"field":"series","type":"nominal","scale":{"domain":["A","B"],"range":["#e6194B","#3cb44b"]},"legend":null}}},
 {"transform":[{"aggregate":[{"op":"count","as":"n"}],"groupby":["region"]}],"mark":{"type":"rect","fill":"#d9d9d9","stroke":"#333333","strokeWidth":1.5},"encoding":{"y":{"datum":0.00000346,"type":"quantitative","scale":{"domain":[-0.00007266,0.000015002],"nice":false,"zero":false}},"y2":{"datum":0.000015002}}},
 {"transform":[{"aggregate":[{"op":"count","as":"n"}],"groupby":["region"]}],"mark":{"type":"text","fontSize":27.5,"color":"#1a1a1a"},"encoding":{"y":{"datum":0.00000923,"type":"quantitative","scale":{"domain":[-0.00007266,0.000015002],"nice":false,"zero":false}},"text":{"field":"region","type":"nominal"}}}
]},
{"width":229,"height":319,"transform":[{"filter":"datum.region == 'REF'"}],"layer":[
 {"transform":[{"aggregate":[{"op":"min","field":"year","as":"year"}]}],"mark":{"type":"rule","color":"#000000","strokeWidth":1.8,"strokeDash":[8,5]},"encoding":{"x":{"field":"year","type":"quantitative","scale":{"domain":[2000.25,2104.75],"nice":false,"zero":false},"axis":{"values":[2012.5,2025,2037.5,2050,2062.5,2075,2087.5,2100],"format":"d","labelExpr":"datum.value % 25 == 0 ? datum.label : ''","labelAngle":270,"labelFontSize":26.5,"labelPadding":1,"title":null,"tickOpacity":{"condition":{"test":"datum.value % 25 != 0","value":0},"value":1},"gridWidth":{"condition":{"test":"datum.value % 25 != 0","value":0.7},"value":1.4}}}}},
 {"mark":{"type":"line","strokeWidth":3.5},"encoding":{"x":{"field":"year","type":"quantitative","scale":{"domain":[2000.25,2104.75],"nice":false,"zero":false},"axis":{"values":[2012.5,2025,2037.5,2050,2062.5,2075,2087.5,2100],"format":"d","labelExpr":"datum.value % 25 == 0 ? datum.label : ''","labelAngle":270,"labelFontSize":26.5,"labelPadding":1,"title":null,"tickOpacity":{"condition":{"test":"datum.value % 25 != 0","value":0},"value":1},"gridWidth":{"condition":{"test":"datum.value % 25 != 0","value":0.7},"value":1.4}}},"y":{"field":"value","type":"quantitative","scale":{"domain":[-0.0002,0.000041265],"nice":false,"zero":false},"axis":{"title":null,"values":[-0.0002,-0.000175,-0.00015,-0.000125,-0.0001,-0.000075,-0.00005,-0.000025,0],"labelExpr":"['0.00000','−0.00005','−0.00010','−0.00015','−0.00020'][indexof([0,-0.00005,-0.0001,-0.00015,-0.0002], datum.value)] || ''","tickOpacity":{"condition":{"test":"indexof([0,-0.00005,-0.0001,-0.00015,-0.0002], datum.value) < 0","value":0},"value":1},"gridWidth":{"condition":{"test":"indexof([0,-0.00005,-0.0001,-0.00015,-0.0002], datum.value) < 0","value":0.7},"value":1.4},"gridOpacity":{"condition":{"test":"datum.value <= -0.0002","value":0},"value":1}}},"color":{"field":"series","type":"nominal","scale":{"domain":["A","B"],"range":["#e6194B","#3cb44b"]},"legend":null}}},
 {"mark":{"type":"circle","size":60,"opacity":1},"encoding":{"x":{"field":"year","type":"quantitative","scale":{"domain":[2000.25,2104.75],"nice":false,"zero":false},"axis":{"values":[2012.5,2025,2037.5,2050,2062.5,2075,2087.5,2100],"format":"d","labelExpr":"datum.value % 25 == 0 ? datum.label : ''","labelAngle":270,"labelFontSize":26.5,"labelPadding":1,"title":null,"tickOpacity":{"condition":{"test":"datum.value % 25 != 0","value":0},"value":1},"gridWidth":{"condition":{"test":"datum.value % 25 != 0","value":0.7},"value":1.4}}},"y":{"field":"value","type":"quantitative","scale":{"domain":[-0.0002,0.000041265],"nice":false,"zero":false}},"color":{"field":"series","type":"nominal","scale":{"domain":["A","B"],"range":["#e6194B","#3cb44b"]},"legend":null}}},
 {"transform":[{"aggregate":[{"op":"count","as":"n"}],"groupby":["region"]}],"mark":{"type":"rect","fill":"#d9d9d9","stroke":"#333333","strokeWidth":1.5},"encoding":{"y":{"datum":0.0000095,"type":"quantitative","scale":{"domain":[-0.0002,0.000041265],"nice":false,"zero":false}},"y2":{"datum":0.000041265}}},
 {"transform":[{"aggregate":[{"op":"count","as":"n"}],"groupby":["region"]}],"mark":{"type":"text","fontSize":27.5,"color":"#1a1a1a"},"encoding":{"y":{"datum":0.00002538,"type":"quantitative","scale":{"domain":[-0.0002,0.000041265],"nice":false,"zero":false}},"text":{"field":"region","type":"nominal"}}}
]},
{"width":229,"height":319,"transform":[{"filter":"datum.region == 'SSA'"}],"layer":[
 {"transform":[{"aggregate":[{"op":"min","field":"year","as":"year"}]}],"mark":{"type":"rule","color":"#000000","strokeWidth":1.8,"strokeDash":[8,5]},"encoding":{"x":{"field":"year","type":"quantitative","scale":{"domain":[2000.25,2104.75],"nice":false,"zero":false},"axis":{"values":[2012.5,2025,2037.5,2050,2062.5,2075,2087.5,2100],"format":"d","labelExpr":"datum.value % 25 == 0 ? datum.label : ''","labelAngle":270,"labelFontSize":26.5,"labelPadding":1,"title":"Year","tickOpacity":{"condition":{"test":"datum.value % 25 != 0","value":0},"value":1},"gridWidth":{"condition":{"test":"datum.value % 25 != 0","value":0.7},"value":1.4}}}}},
 {"mark":{"type":"line","strokeWidth":3.5},"encoding":{"x":{"field":"year","type":"quantitative","scale":{"domain":[2000.25,2104.75],"nice":false,"zero":false},"axis":{"values":[2012.5,2025,2037.5,2050,2062.5,2075,2087.5,2100],"format":"d","labelExpr":"datum.value % 25 == 0 ? datum.label : ''","labelAngle":270,"labelFontSize":26.5,"labelPadding":1,"title":"Year","tickOpacity":{"condition":{"test":"datum.value % 25 != 0","value":0},"value":1},"gridWidth":{"condition":{"test":"datum.value % 25 != 0","value":0.7},"value":1.4}}},"y":{"field":"value","type":"quantitative","scale":{"domain":[-0.000042,0.0000086715],"nice":false,"zero":false},"axis":{"title":null,"values":[-0.00004,-0.000035,-0.00003,-0.000025,-0.00002,-0.000015,-0.00001,-0.000005,0],"labelExpr":"['0e+00','−1e−05','−2e−05','−3e−05','−4e−05'][indexof([0,-0.00001,-0.00002,-0.00003,-0.00004], datum.value)] || ''","tickOpacity":{"condition":{"test":"indexof([0,-0.00001,-0.00002,-0.00003,-0.00004], datum.value) < 0","value":0},"value":1},"gridWidth":{"condition":{"test":"indexof([0,-0.00001,-0.00002,-0.00003,-0.00004], datum.value) < 0","value":0.7},"value":1.4}}},"color":{"field":"series","type":"nominal","scale":{"domain":["A","B"],"range":["#e6194B","#3cb44b"]},"legend":null}}},
 {"mark":{"type":"circle","size":60,"opacity":1},"encoding":{"x":{"field":"year","type":"quantitative","scale":{"domain":[2000.25,2104.75],"nice":false,"zero":false},"axis":{"values":[2012.5,2025,2037.5,2050,2062.5,2075,2087.5,2100],"format":"d","labelExpr":"datum.value % 25 == 0 ? datum.label : ''","labelAngle":270,"labelFontSize":26.5,"labelPadding":1,"title":"Year","tickOpacity":{"condition":{"test":"datum.value % 25 != 0","value":0},"value":1},"gridWidth":{"condition":{"test":"datum.value % 25 != 0","value":0.7},"value":1.4}}},"y":{"field":"value","type":"quantitative","scale":{"domain":[-0.000042,0.0000086715],"nice":false,"zero":false}},"color":{"field":"series","type":"nominal","scale":{"domain":["A","B"],"range":["#e6194B","#3cb44b"]},"legend":null}}},
 {"transform":[{"aggregate":[{"op":"count","as":"n"}],"groupby":["region"]}],"mark":{"type":"rect","fill":"#d9d9d9","stroke":"#333333","strokeWidth":1.5},"encoding":{"y":{"datum":0.000002,"type":"quantitative","scale":{"domain":[-0.000042,0.0000086715],"nice":false,"zero":false}},"y2":{"datum":0.0000086715}}},
 {"transform":[{"aggregate":[{"op":"count","as":"n"}],"groupby":["region"]}],"mark":{"type":"text","fontSize":27.5,"color":"#1a1a1a"},"encoding":{"y":{"datum":0.00000534,"type":"quantitative","scale":{"domain":[-0.000042,0.0000086715],"nice":false,"zero":false}},"text":{"field":"region","type":"nominal"}}}
]},
{"width":229,"height":319,"transform":[{"filter":"datum.region == 'USA'"}],"layer":[
 {"transform":[{"aggregate":[{"op":"min","field":"year","as":"year"}]}],"mark":{"type":"rule","color":"#000000","strokeWidth":1.8,"strokeDash":[8,5]},"encoding":{"x":{"field":"year","type":"quantitative","scale":{"domain":[2000.25,2104.75],"nice":false,"zero":false},"axis":{"values":[2012.5,2025,2037.5,2050,2062.5,2075,2087.5,2100],"format":"d","labelExpr":"datum.value % 25 == 0 ? datum.label : ''","labelAngle":270,"labelFontSize":26.5,"labelPadding":1,"title":null,"tickOpacity":{"condition":{"test":"datum.value % 25 != 0","value":0},"value":1},"gridWidth":{"condition":{"test":"datum.value % 25 != 0","value":0.7},"value":1.4}}}}},
 {"mark":{"type":"line","strokeWidth":3.5},"encoding":{"x":{"field":"year","type":"quantitative","scale":{"domain":[2000.25,2104.75],"nice":false,"zero":false},"axis":{"values":[2012.5,2025,2037.5,2050,2062.5,2075,2087.5,2100],"format":"d","labelExpr":"datum.value % 25 == 0 ? datum.label : ''","labelAngle":270,"labelFontSize":26.5,"labelPadding":1,"title":null,"tickOpacity":{"condition":{"test":"datum.value % 25 != 0","value":0},"value":1},"gridWidth":{"condition":{"test":"datum.value % 25 != 0","value":0.7},"value":1.4}}},"y":{"field":"value","type":"quantitative","scale":{"domain":[-0.0006068,0.00012529],"nice":false,"zero":false},"axis":{"title":null,"values":[-0.0006,-0.0005,-0.0004,-0.0003,-0.0002,-0.0001,0],"labelExpr":"['0e+00','−2e−04','−4e−04','−6e−04'][indexof([0,-0.0002,-0.0004,-0.0006], datum.value)] || ''","tickOpacity":{"condition":{"test":"indexof([0,-0.0002,-0.0004,-0.0006], datum.value) < 0","value":0},"value":1},"gridWidth":{"condition":{"test":"indexof([0,-0.0002,-0.0004,-0.0006], datum.value) < 0","value":0.7},"value":1.4}}},"color":{"field":"series","type":"nominal","scale":{"domain":["A","B"],"range":["#e6194B","#3cb44b"]},"legend":null}}},
 {"mark":{"type":"circle","size":60,"opacity":1},"encoding":{"x":{"field":"year","type":"quantitative","scale":{"domain":[2000.25,2104.75],"nice":false,"zero":false},"axis":{"values":[2012.5,2025,2037.5,2050,2062.5,2075,2087.5,2100],"format":"d","labelExpr":"datum.value % 25 == 0 ? datum.label : ''","labelAngle":270,"labelFontSize":26.5,"labelPadding":1,"title":null,"tickOpacity":{"condition":{"test":"datum.value % 25 != 0","value":0},"value":1},"gridWidth":{"condition":{"test":"datum.value % 25 != 0","value":0.7},"value":1.4}}},"y":{"field":"value","type":"quantitative","scale":{"domain":[-0.0006068,0.00012529],"nice":false,"zero":false}},"color":{"field":"series","type":"nominal","scale":{"domain":["A","B"],"range":["#e6194B","#3cb44b"]},"legend":null}}},
 {"transform":[{"aggregate":[{"op":"count","as":"n"}],"groupby":["region"]}],"mark":{"type":"rect","fill":"#d9d9d9","stroke":"#333333","strokeWidth":1.5},"encoding":{"y":{"datum":0.0000289,"type":"quantitative","scale":{"domain":[-0.0006068,0.00012529],"nice":false,"zero":false}},"y2":{"datum":0.00012529}}},
 {"transform":[{"aggregate":[{"op":"count","as":"n"}],"groupby":["region"]}],"mark":{"type":"text","fontSize":27.5,"color":"#1a1a1a"},"encoding":{"y":{"datum":0.0000771,"type":"quantitative","scale":{"domain":[-0.0006068,0.00012529],"nice":false,"zero":false}},"text":{"field":"region","type":"nominal"}}}
]}
],
"config":{
 "font":"Liberation Sans",
 "view":{"stroke":"#333333","strokeWidth":1.5},
 "axis":{"grid":true,"gridColor":"#ebebeb","domain":false,"tickColor":"#333333","tickWidth":1.3,"tickSize":6.5,"labelFontSize":27.5,"labelColor":"#1a1a1a","labelPadding":2.5,"labelFlush":false,"labelOverlap":false,"labelBound":false,"titleFontSize":27,"titleFontWeight":"bold","titleColor":"#000000","titlePadding":8}
}
}
